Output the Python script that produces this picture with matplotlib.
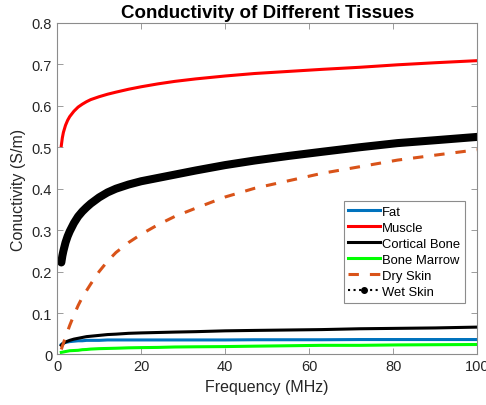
import matplotlib
matplotlib.use("Agg")
import matplotlib.pyplot as plt
from matplotlib.lines import Line2D

plt.rcParams['font.family'] = ['Liberation Sans', 'DejaVu Sans']

freq = [1, 1.25, 1.5, 2, 2.5, 3, 4, 5, 6, 7, 8, 10, 12, 14, 17, 20, 24, 28, 33, 40,
        47, 55, 63, 72, 81, 90, 100]

fat = [0.024, 0.026, 0.027, 0.029, 0.030, 0.031, 0.032, 0.033, 0.033, 0.034, 0.034,
       0.034, 0.035, 0.035, 0.035, 0.035, 0.035, 0.035, 0.035, 0.035,
       0.0355, 0.0355, 0.0355, 0.036, 0.036, 0.036, 0.036]
muscle = [0.504, 0.523, 0.536, 0.553, 0.565, 0.574, 0.587, 0.597, 0.604, 0.610, 0.615,
          0.622, 0.628, 0.633, 0.640, 0.646, 0.653, 0.659, 0.665, 0.672,
          0.678, 0.683, 0.688, 0.693, 0.699, 0.704, 0.709]
cortical = [0.022, 0.025, 0.027, 0.030, 0.032, 0.034, 0.037, 0.039, 0.041, 0.043, 0.044,
            0.046, 0.048, 0.049, 0.051, 0.052, 0.053, 0.054, 0.055, 0.057,
            0.058, 0.059, 0.060, 0.062, 0.063, 0.064, 0.066]
marrow = [0.005, 0.0055, 0.006, 0.007, 0.008, 0.009, 0.0095, 0.010, 0.0115, 0.012, 0.013,
          0.014, 0.0145, 0.015, 0.016, 0.0165, 0.017, 0.018, 0.0185, 0.019,
          0.020, 0.021, 0.022, 0.022, 0.023, 0.0235, 0.024]
dry_skin = [0.012, 0.020, 0.027, 0.042, 0.056, 0.070, 0.095, 0.118, 0.138, 0.154, 0.170,
            0.200, 0.225, 0.246, 0.270, 0.290, 0.313, 0.333, 0.353, 0.380,
            0.401, 0.419, 0.437, 0.453, 0.469, 0.481, 0.494]
wet_skin = [0.222, 0.238, 0.250, 0.270, 0.285, 0.297, 0.317, 0.333, 0.345, 0.355, 0.364,
            0.379, 0.391, 0.400, 0.410, 0.418, 0.426, 0.434, 0.444, 0.457,
            0.468, 0.479, 0.489, 0.500, 0.510, 0.517, 0.525]

labels = ['Fat', 'Muscle', 'Cortical Bone', 'Bone Marrow', 'Dry Skin', 'Wet Skin']
xticks = [0, 20, 40, 60, 80, 100]
yticks = [0, 0.1, 0.2, 0.3, 0.4, 0.5, 0.6, 0.7, 0.8]
yticklabels = ['0', '0.1', '0.2', '0.3', '0.4', '0.5', '0.6', '0.7', '0.8']

fig = plt.figure(figsize=(4.86, 4.06), dpi=100)
ax = fig.add_axes([0.1175, 0.1245, 0.8645, 0.8165])

c_fat = '#0072BD'
c_mus = '#FF0000'
c_cb = '#000000'
c_bm = '#00FF00'
c_dry = '#D95319'

ax.plot(freq, fat, color=c_fat, lw=2.2, label=labels[0])
ax.plot(freq, muscle, color=c_mus, lw=2.2, label=labels[1])
ax.plot(freq, cortical, color=c_cb, lw=2.2, label=labels[2])
ax.plot(freq, marrow, color=c_bm, lw=2.2, label=labels[3])
ax.plot(freq, dry_skin, color=c_dry, lw=2.2, dashes=[3.4, 3.6], label=labels[4])
ax.plot(freq, wet_skin, color='k', lw=5.8, solid_capstyle='round',
        solid_joinstyle='round', label='_nolegend_')

handles, lbls = ax.get_legend_handles_labels()
handles.append(Line2D([0], [0], color='k', ls=':', lw=1.5, marker='o', markersize=4))
lbls.append(labels[5])

leg = ax.legend(handles, lbls, loc='upper left', bbox_to_anchor=(0.682, 0.463),
                fontsize=9.4, handlelength=2.4, handletextpad=0.2, labelspacing=0.3,
                borderpad=0.35, borderaxespad=0.0, fancybox=False, framealpha=1)
leg.get_frame().set_edgecolor('#8c8c8c')
leg.get_frame().set_linewidth(0.8)

ax.set_xlim(0, 100)
ax.set_ylim(0, 0.8)
ax.set_xticks(xticks)
ax.set_yticks(yticks)
ax.set_yticklabels(yticklabels)
ax.tick_params(direction='in', length=4, width=0.6, colors='#8c8c8c',
               labelcolor='#262626', labelsize=10.5, top=True, right=True)
for s in ax.spines.values():
    s.set_color('#8c8c8c')
    s.set_linewidth(0.8)

ax.set_xlabel('Frequency (MHz)', fontsize=11.5, color='#262626')
ax.set_ylabel('Conuctivity (S/m)', fontsize=11.5, color='#262626')
ax.set_title('Conductivity of Different Tissues', fontsize=13.5, fontweight='bold', pad=4)

fig.savefig('out.png', dpi=100)
